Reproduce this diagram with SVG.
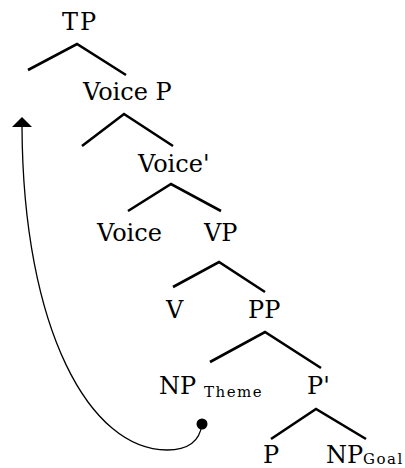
<svg xmlns="http://www.w3.org/2000/svg" width="405" height="468" viewBox="0 0 405 468">
<defs>
<style>
text{font-family:"DejaVu Serif","Liberation Serif",serif;font-size:24px;fill:#000}
.sub{font-size:15px;letter-spacing:1.5px}
.br{fill:none;stroke:#000;stroke-width:2.6;stroke-linejoin:miter}
.mv{fill:none;stroke:#000;stroke-width:1.3}
</style>
</defs>
<rect width="405" height="468" fill="#fff"/>
<g id="connectors">
<polyline class="br" points="28,70 77,44 126,75"/>
<polyline class="br" points="82,146 124,114 173,146"/>
<polyline class="br" points="128,211 171,184 221,211"/>
<polyline class="br" points="173,287 219,262 265,292"/>
<polyline class="br" points="210,362 265,332 321,368"/>
<polyline class="br" points="271,439 316,409 366,439"/>
<path class="mv" d="M202,424 C200,440 190,450 167,450 C90,450 23,330 22,127"/>
<path d="M22,117 L32,127 L12,127 Z" fill="#000"/>
<circle cx="202" cy="424" r="5.5" fill="#000"/>
</g>
<g id="TP"><text x="62" y="30" letter-spacing="2">TP</text></g>
<g id="VoiceP"><text x="83" y="100">Voice P</text></g>
<g id="VoiceBar"><text x="138" y="172">Voice'</text></g>
<g id="Voice"><text x="97" y="241">Voice</text></g>
<g id="VP"><text x="204" y="241">VP</text></g>
<g id="V"><text x="166" y="318">V</text></g>
<g id="PP"><text x="248" y="318">PP</text></g>
<g id="NPTheme"><text x="159" y="394">NP</text><text class="sub" x="204" y="397">Theme</text></g>
<g id="PBar"><text x="307" y="394">P'</text></g>
<g id="P"><text x="263" y="463">P</text></g>
<g id="NPGoal"><text x="326" y="463">NP</text><text class="sub" x="363" y="464">Goal</text></g>
</svg>
